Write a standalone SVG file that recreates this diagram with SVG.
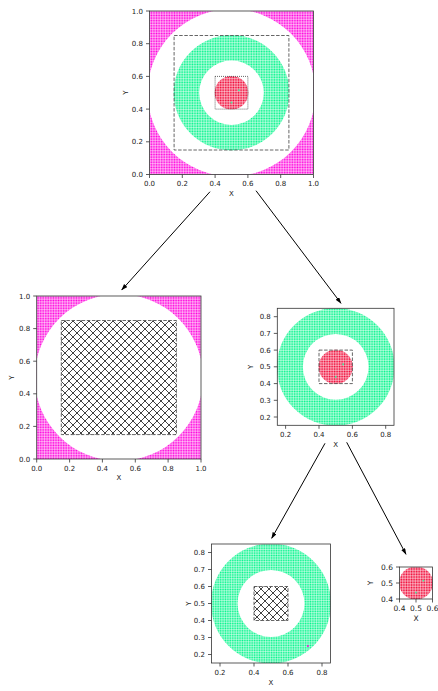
<svg xmlns="http://www.w3.org/2000/svg" width="438" height="691" viewBox="0 0 438 691">
<style>
.tk{font-family:"DejaVu Sans",sans-serif;font-size:7px;fill:#222}
.tks{font-family:"DejaVu Sans",sans-serif;font-size:7.5px;fill:#222}
.xl{text-anchor:middle}
.yl{text-anchor:end}
.frame{fill:none;stroke:#333;stroke-width:0.8}
.tick{fill:none;stroke:#333;stroke-width:0.8}
.dash{fill:none;stroke:#555;stroke-width:0.9;stroke-dasharray:3.5 1.6}
.dot{fill:none;stroke:#444;stroke-width:0.9;stroke-dasharray:0.9 1.1}
.mag{fill:url(#pm);fill-rule:evenodd}
.grn{fill:url(#pg);fill-rule:evenodd}
.red{fill:url(#pr)}
.hatch{fill:url(#ph)}
.arrow{fill:none;stroke:#000;stroke-width:1;marker-end:url(#ah)}
</style>
<defs>
<pattern id="pm" patternUnits="userSpaceOnUse" x="0.005" y="0.005" width="0.01" height="0.01"><rect width="0.01" height="0.01" fill="#ff00dd"/><rect width="0.01" height="0.0025" fill="#fff"/><rect width="0.0025" height="0.01" fill="#fff"/></pattern>
<pattern id="pg" patternUnits="userSpaceOnUse" x="0.005" y="0.005" width="0.01" height="0.01"><rect width="0.01" height="0.01" fill="#00f58a"/><rect width="0.01" height="0.0025" fill="#fff"/><rect width="0.0025" height="0.01" fill="#fff"/></pattern>
<pattern id="pr" patternUnits="userSpaceOnUse" x="0.005" y="0.005" width="0.01" height="0.01"><rect width="0.01" height="0.01" fill="#f00030"/><rect width="0.01" height="0.0025" fill="#fff"/><rect width="0.0025" height="0.01" fill="#fff"/></pattern>
<pattern id="ph" patternUnits="userSpaceOnUse" x="1" y="1" width="8" height="8"><path d="M0,0L8,8M8,0L0,8" stroke="#111" stroke-width="0.8"/></pattern>
<clipPath id="c01"><rect x="0" y="0" width="1" height="1"/></clipPath>
<clipPath id="c15"><rect x="0.15" y="0.15" width="0.7" height="0.7"/></clipPath>
<clipPath id="c46"><rect x="0.4" y="0.4" width="0.2" height="0.2"/></clipPath>
<marker id="ah" markerUnits="userSpaceOnUse" markerWidth="8" markerHeight="6" refX="6" refY="2.2" orient="auto"><path d="M0,0L6.5,2.2L0,4.4Z" fill="#000"/></marker>
</defs>
<rect width="438" height="691" fill="#fff"/>

<!-- TOP PLOT -->
<g id="plot-top">
<g transform="translate(149.5,174.5) scale(164,-163.5)" clip-path="url(#c01)">
<path class="mag" d="M0,0H1V1H0Z M1.012,0.5A0.512,0.512 0 1 0 -0.012,0.5A0.512,0.512 0 1 0 1.012,0.5Z"/>
<path class="grn" d="M0.853,0.5A0.353,0.353 0 1 0 0.147,0.5A0.353,0.353 0 1 0 0.853,0.5Z M0.697,0.5A0.197,0.197 0 1 0 0.303,0.5A0.197,0.197 0 1 0 0.697,0.5Z"/>
<circle class="red" cx="0.5" cy="0.5" r="0.103"/>
<rect x="0.54" y="0.51" width="0.01" height="0.01" fill="#40f0a0"/>
<rect x="0.495" y="0.435" width="0.01" height="0.01" fill="#40f0a0"/>
</g>
<rect class="dash" x="174.1" y="35.5" width="114.8" height="114.5"/>
<rect class="dot" x="215.1" y="76.4" width="32.8" height="32.7"/>
<rect class="frame" x="149.5" y="11" width="164" height="163.5"/>
<path class="tick" d="M149.5,174.5v3.5M182.3,174.5v3.5M215.1,174.5v3.5M247.9,174.5v3.5M280.7,174.5v3.5M313.5,174.5v3.5M149.5,174.5h-3.5M149.5,141.8h-3.5M149.5,109.1h-3.5M149.5,76.4h-3.5M149.5,43.7h-3.5M149.5,11h-3.5"/>
<g class="tk xl"><text x="149.5" y="186">0.0</text><text x="182.3" y="186">0.2</text><text x="215.1" y="186">0.4</text><text x="247.9" y="186">0.6</text><text x="280.7" y="186">0.8</text><text x="313.5" y="186">1.0</text><text x="231.5" y="195.5">X</text></g>
<g class="tk yl"><text x="143" y="177">0.0</text><text x="143" y="144.3">0.2</text><text x="143" y="111.6">0.4</text><text x="143" y="78.9">0.6</text><text x="143" y="46.2">0.8</text><text x="143" y="13.5">1.0</text></g>
<text class="tk xl" transform="translate(127.5,92.7) rotate(-90)">Y</text>
</g>

<!-- MIDDLE LEFT PLOT -->
<g id="plot-left">
<g transform="translate(36.7,459) scale(164.3,-163)" clip-path="url(#c01)">
<path class="mag" d="M0,0H1V1H0Z M1.012,0.5A0.512,0.512 0 1 0 -0.012,0.5A0.512,0.512 0 1 0 1.012,0.5Z"/>
</g>
<rect x="61.3" y="320.5" width="115.1" height="114.1" fill="#fff"/>
<rect class="hatch" x="61.3" y="320.5" width="115.1" height="114.1"/>
<rect class="dash" x="61.3" y="320.5" width="115.1" height="114.1"/>
<rect class="frame" x="36.7" y="296" width="164.3" height="163"/>
<path class="tick" d="M36.7,459v3.5M69.6,459v3.5M102.4,459v3.5M135.3,459v3.5M168.1,459v3.5M201,459v3.5M36.7,459h-3.5M36.7,426.4h-3.5M36.7,393.8h-3.5M36.7,361.2h-3.5M36.7,328.6h-3.5M36.7,296h-3.5"/>
<g class="tk xl"><text x="36.7" y="470.5">0.0</text><text x="69.6" y="470.5">0.2</text><text x="102.4" y="470.5">0.4</text><text x="135.3" y="470.5">0.6</text><text x="168.1" y="470.5">0.8</text><text x="201" y="470.5">1.0</text><text x="118.8" y="480">X</text></g>
<g class="tk yl"><text x="30.2" y="461.5">0.0</text><text x="30.2" y="428.9">0.2</text><text x="30.2" y="396.3">0.4</text><text x="30.2" y="363.7">0.6</text><text x="30.2" y="331.1">0.8</text><text x="30.2" y="298.5">1.0</text></g>
<text class="tk xl" transform="translate(14.2,377.5) rotate(-90)">Y</text>
</g>

<!-- MIDDLE RIGHT PLOT -->
<g id="plot-right">
<g transform="translate(277.3,425.3) scale(166.8,-167) translate(-0.15,-0.15)" clip-path="url(#c15)">
<path class="grn" d="M0.853,0.5A0.353,0.353 0 1 0 0.147,0.5A0.353,0.353 0 1 0 0.853,0.5Z M0.697,0.5A0.197,0.197 0 1 0 0.303,0.5A0.197,0.197 0 1 0 0.697,0.5Z"/>
<circle class="red" cx="0.5" cy="0.5" r="0.103"/>
<rect x="0.54" y="0.51" width="0.01" height="0.01" fill="#40f0a0"/>
<rect x="0.495" y="0.435" width="0.01" height="0.01" fill="#40f0a0"/>
</g>
<rect class="dash" x="319" y="350.1" width="33.4" height="33.5"/>
<rect class="frame" x="277.3" y="308.3" width="116.7" height="117"/>
<path class="tick" d="M285.6,425.3v3.5M319,425.3v3.5M352.4,425.3v3.5M385.7,425.3v3.5M277.3,417h-3.5M277.3,400.3h-3.5M277.3,383.6h-3.5M277.3,366.8h-3.5M277.3,350.1h-3.5M277.3,333.4h-3.5M277.3,316.7h-3.5"/>
<g class="tk xl"><text x="285.6" y="436.8">0.2</text><text x="319" y="436.8">0.4</text><text x="352.4" y="436.8">0.6</text><text x="385.7" y="436.8">0.8</text><text x="335.7" y="446.5">X</text></g>
<g class="tk yl"><text x="270.8" y="419.5">0.2</text><text x="270.8" y="402.8">0.3</text><text x="270.8" y="386.1">0.4</text><text x="270.8" y="369.3">0.5</text><text x="270.8" y="352.6">0.6</text><text x="270.8" y="335.9">0.7</text><text x="270.8" y="319.2">0.8</text></g>
<text class="tk xl" transform="translate(252.5,366.8) rotate(-90)">Y</text>
</g>

<!-- BOTTOM MIDDLE PLOT -->
<g id="plot-bottom">
<g transform="translate(211.5,663) scale(170,-170) translate(-0.15,-0.15)" clip-path="url(#c15)">
<path class="grn" d="M0.853,0.5A0.353,0.353 0 1 0 0.147,0.5A0.353,0.353 0 1 0 0.853,0.5Z M0.697,0.5A0.197,0.197 0 1 0 0.303,0.5A0.197,0.197 0 1 0 0.697,0.5Z"/>
<rect x="0.712" y="0.245" width="0.01" height="0.01" fill="#ff00dd"/>
</g>
<rect x="254" y="586.5" width="34" height="34" fill="#fff"/>
<rect class="hatch" x="254" y="586.5" width="34" height="34"/>
<rect class="dash" x="254" y="586.5" width="34" height="34"/>
<rect class="frame" x="211.5" y="544" width="119" height="119"/>
<path class="tick" d="M220,663v3.5M254,663v3.5M288,663v3.5M322,663v3.5M211.5,654.5h-3.5M211.5,637.5h-3.5M211.5,620.5h-3.5M211.5,603.5h-3.5M211.5,586.5h-3.5M211.5,569.5h-3.5M211.5,552.5h-3.5"/>
<g class="tk xl"><text x="220" y="674.5">0.2</text><text x="254" y="674.5">0.4</text><text x="288" y="674.5">0.6</text><text x="322" y="674.5">0.8</text><text x="271" y="684.5">X</text></g>
<g class="tk yl"><text x="205" y="657">0.2</text><text x="205" y="640">0.3</text><text x="205" y="623">0.4</text><text x="205" y="606">0.5</text><text x="205" y="589">0.6</text><text x="205" y="572">0.7</text><text x="205" y="555">0.8</text></g>
<text class="tk xl" transform="translate(190.5,603.5) rotate(-90)">Y</text>
</g>

<!-- SMALL RIGHT PLOT -->
<g id="plot-small">
<g transform="translate(399.5,599) scale(165,-160) translate(-0.4,-0.4)" clip-path="url(#c46)">
<circle class="red" cx="0.5" cy="0.5" r="0.103"/>
<rect x="0.54" y="0.51" width="0.01" height="0.01" fill="#40f0a0"/>
<rect x="0.495" y="0.435" width="0.01" height="0.01" fill="#40f0a0"/>
</g>
<rect class="frame" x="399.5" y="567" width="33" height="32"/>
<path class="tick" d="M399.5,599v3.5M416,599v3.5M432.5,599v3.5M399.5,599h-3.5M399.5,583h-3.5M399.5,567h-3.5"/>
<g class="tks xl"><text x="399.5" y="611">0.4</text><text x="416" y="611">0.5</text><text x="432.5" y="611">0.6</text><text x="416" y="621">X</text></g>
<g class="tks yl"><text x="393" y="601.7">0.4</text><text x="393" y="585.7">0.5</text><text x="393" y="569.7">0.6</text></g>
<text class="tks xl" transform="translate(373,583) rotate(-90)">Y</text>
</g>

<g id="connectors">
<path class="arrow" d="M210,191.7L121.7,290"/>
<path class="arrow" d="M256,190.7L341,303.3"/>
<path class="arrow" d="M325,443.3L271.7,538.3"/>
<path class="arrow" d="M346.7,442.3L406,554.3"/>
</g>
</svg>
